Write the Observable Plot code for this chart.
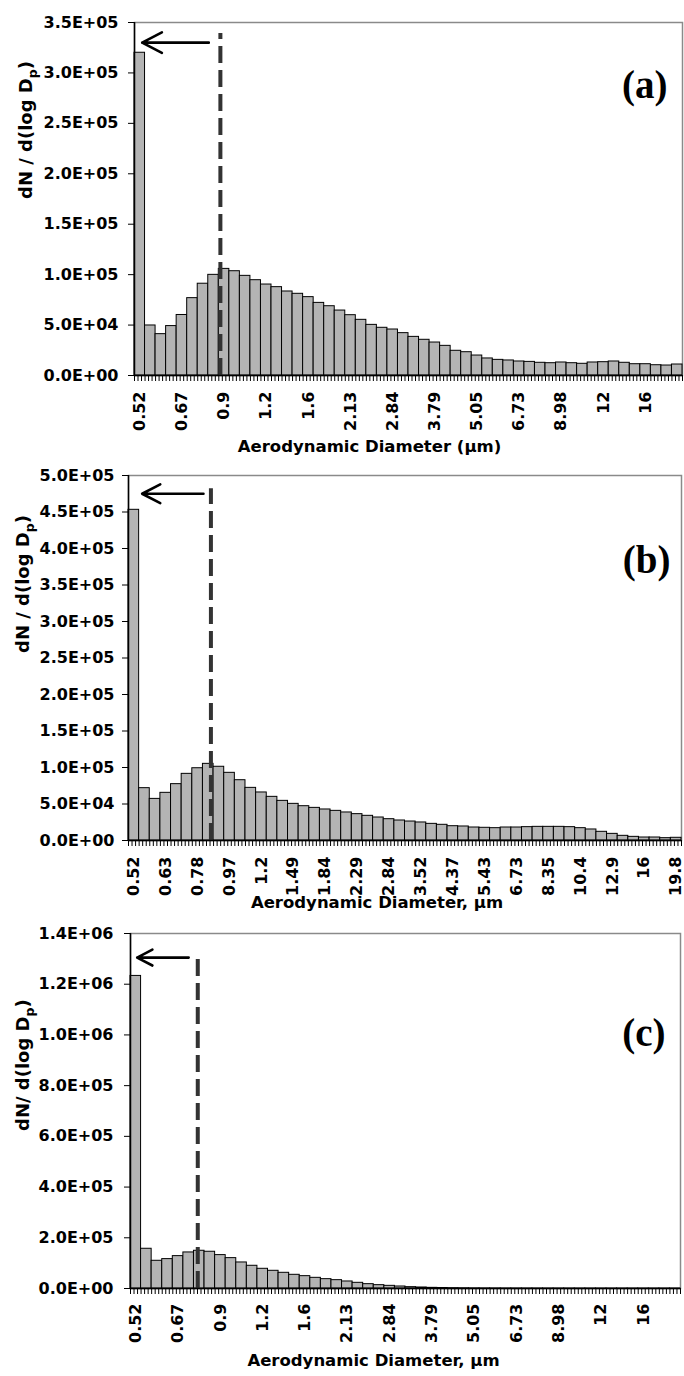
<!DOCTYPE html>
<html><head><meta charset="utf-8">
<script src="https://cdn.jsdelivr.net/npm/d3@7"></script>
<script src="https://cdn.jsdelivr.net/npm/@observablehq/plot@0.6"></script>
<style>
html,body{margin:0;padding:0;background:#fff;}
body{width:684px;}
svg{display:block;}
</style></head><body><div id="chart"></div>
<script>
// APS channel midpoints (µm) – the 52 size bins (categories)
const diameters = [0.523,0.542,0.583,0.626,0.673,0.723,0.777,0.835,0.898,0.965,1.037,1.114,1.197,1.286,1.382,1.486,1.596,1.715,1.843,1.981,2.129,2.288,2.458,2.642,2.839,3.051,3.278,3.523,3.786,4.068,4.371,4.698,5.048,5.425,5.829,6.264,6.732,7.234,7.774,8.354,8.977,9.647,10.37,11.14,11.97,12.86,13.82,14.86,15.96,17.15,18.43,19.81];

// dN/d(log Dp) per bin
const valuesA = [320000,49600,41000,49000,60000,76700,91000,99800,105700,103400,98800,94500,90200,87600,83300,81000,77700,72000,68700,64400,59800,55200,50200,47300,45600,42000,38300,35400,32700,29400,24500,23100,19800,16900,15500,14900,13900,13500,12600,12200,12900,12200,11600,12900,13200,13900,12600,11200,11200,10200,9900,10900];
const valuesB = [453000,71700,57000,65300,77200,91300,99000,105000,101000,92700,82600,72100,65800,59800,54300,50200,47000,44700,42500,40600,38400,36100,33800,31500,29200,27400,26000,24700,22800,21500,19600,19200,17800,17400,16900,17800,17800,18300,18700,18700,18700,18300,16900,15100,11900,9100,6400,5000,4100,4100,3200,3700];
const valuesC = [1232700,156700,109300,115900,127700,142200,148800,144900,131700,119800,102700,89600,77700,69800,61900,54000,48700,42100,36900,32900,27700,22400,17100,13200,10500,7900,5300,4000,2600,2000,1300,900,600,400,300,200,150,100,80,60,50,40,30,25,20,15,12,10,8,6,5,4];

// tick labels
const labelsAC = ["0.52","0.67","0.9","1.2","1.6","2.13","2.84","3.79","5.05","6.73","8.98","12","16"];
const labelsB = ["0.52","0.63","0.78","0.97","1.2","1.49","1.84","2.29","2.84","3.52","4.37","5.43","6.73","8.35","10.4","12.9","16","19.8"];
const yTicksA = [0,50000,100000,150000,200000,250000,300000,350000];
const yTicksB = [0,50000,100000,150000,200000,250000,300000,350000,400000,450000,500000];
const yTicksC = [0,200000,400000,600000,800000,1000000,1200000,1400000];

// dashed cut-off (bin position, top value) and arrow (from bin, to bin, level)
const cutoffA = {x: 8.15, top: 339000};
const cutoffB = {x: 7.75, top: 482000};
const cutoffC = {x: 6.36, top: 1313000};
const arrowA = {from: 7.05, to: 0.73, level: 330000};
const arrowB = {from: 7.05, to: 1.28, level: 475000};
const arrowC = {from: 5.5, to: 0.63, level: 1305000};

const SANS = "'DejaVu Sans', 'Liberation Sans', Arial, sans-serif";
const fmtE = v => { const [m, e] = v.toExponential(1).split("e"); return m + "E" + e[0] + e.slice(1).padStart(2, "0"); };

function panel(c) {
  const data = c.values.map((v, i) => ({i, d: diameters[i], v}));
  const n = data.length;
  const minor = d3.range(0, n * 3 + 1).map(k => k / 3);
  const labelPos = c.labels.map((_, k) => k * c.step + 0.5);
  const svg = Plot.plot({
    width: 684, height: c.height,
    marginTop: c.mt, marginBottom: c.mb, marginLeft: c.ml, marginRight: c.mr,
    style: {fontFamily: SANS, fontWeight: "bold", color: "#000", background: "#fff", overflow: "visible"},
    x: {type: "linear", domain: [0, n], axis: null},
    y: {domain: [0, c.ymax], axis: null},
    marks: [
      Plot.frame({stroke: "#8a8a8a", strokeWidth: 1.5}),
      Plot.rectY(data, {x1: "i", x2: d => d.i + 1, y: "v", fill: "#b4b4b4", stroke: "#000", strokeWidth: 1}),
      Plot.ruleX([c.cutoff], {x: "x", y1: 0, y2: "top", stroke: "#333", strokeWidth: 4, strokeDasharray: "17,7"}),
      Plot.arrow([c.arrow], {x1: "from", x2: "to", y1: "level", y2: "level", stroke: "#000", strokeWidth: 2.6, headLength: 14, headAngle: 55}),
      Plot.ruleX([0], {stroke: "#000", strokeWidth: 1.5}),
      Plot.ruleY([0], {stroke: "#000", strokeWidth: 1.5}),
      Plot.axisY({ticks: c.yTicks, tickFormat: fmtE, tickSize: 6, tickPadding: c.yPad, fontSize: 16, label: null}),
      Plot.axisX({ticks: minor, tickSize: 6, tickFormat: () => "", label: null}),
      Plot.axisX({ticks: labelPos, tickFormat: d => c.labels[Math.round((d - 0.5) / c.step)], tickRotate: -90, tickSize: 0, tickPadding: c.xPad, fontSize: 16, label: null}),
      Plot.text([c.letter], {frameAnchor: "top-right", textAnchor: "end", dx: c.letterDx, dy: c.letterDy, fontFamily: "'Liberation Serif', 'Times New Roman', serif", fontSize: 39, fontWeight: "bold"}),
      Plot.text([c.yTitle], {frameAnchor: "left", rotate: -90, dx: c.yTitleDx, dy: c.yTitleDy, fontSize: 18}),
      Plot.text([c.xTitle], {frameAnchor: "bottom", dx: c.xTitleDx, dy: c.xTitleDy, fontSize: 16.5})
    ]
  });
  // subscript p in the y title
  d3.select(svg).selectAll("text").each(function() {
    const t = d3.select(this);
    if (this.textContent === c.yTitle) {
      const parts = c.yTitle.split("_p");
      t.text(null);
      t.append("tspan").text(parts[0]);
      t.append("tspan").attr("dy", 5).attr("font-size", 12.5).text("p");
      t.append("tspan").attr("dy", -5).text(parts[1]);
    }
  });
  return svg;
}

const root = document.getElementById("chart");
root.appendChild(panel({
  values: valuesA, labels: labelsAC, step: 4, yTicks: yTicksA, ymax: 350000,
  height: 462, mt: 22, mb: 87, ml: 134, mr: 2, yPad: 10, xPad: 16,
  cutoff: cutoffA, arrow: arrowA,
  letter: "(a)", letterDx: -15, letterDy: 48,
  yTitle: "dN / d(log D_p)", yTitleDx: -108, yTitleDy: 0,
  xTitle: "Aerodynamic Diameter (µm)", xTitleDx: -39, xTitleDy: 76
}));
root.appendChild(panel({
  values: valuesB, labels: labelsB, step: 3, yTicks: yTicksB, ymax: 500000,
  height: 458, mt: 13, mb: 80, ml: 128, mr: 3, yPad: 8, xPad: 16,
  cutoff: cutoffB, arrow: arrowB,
  letter: "(b)", letterDx: -11, letterDy: 70,
  yTitle: "dN / d(log D_p)", yTitleDx: -105, yTitleDy: -5,
  xTitle: "Aerodynamic Diameter, µm", xTitleDx: -28, xTitleDy: 67
}));
root.appendChild(panel({
  values: valuesC, labels: labelsAC, step: 4, yTicks: yTicksC, ymax: 1400000,
  height: 456, mt: 13, mb: 88, ml: 130, mr: 4, yPad: 11, xPad: 15,
  cutoff: cutoffC, arrow: arrowC,
  letter: "(c)", letterDx: -15, letterDy: 85,
  yTitle: "dN/ d(log D_p)", yTitleDx: -107, yTitleDy: 20,
  xTitle: "Aerodynamic Diameter, µm", xTitleDx: -32, xTitleDy: 77
}));
</script></body></html>
